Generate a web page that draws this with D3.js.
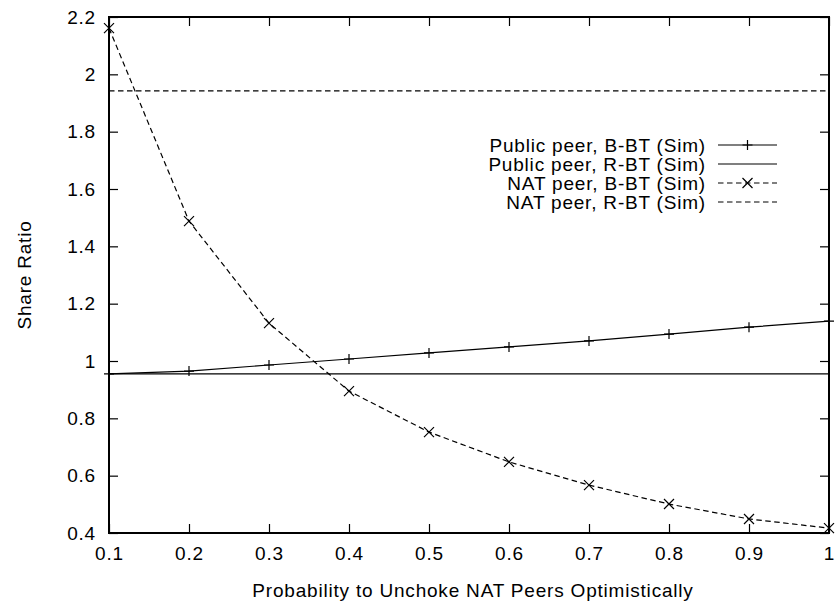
<!DOCTYPE html>
<meta charset="utf-8">
<style>
body { margin: 0; background: #fff; }
text { font-family: "Liberation Sans", Arial, sans-serif; font-size: 19px; letter-spacing: 0.8px; fill: #000; }
.axis path { display: none; }
.axis line { stroke: #000; stroke-width: 1.2px; }
.line { fill: none; stroke: #000; stroke-width: 1.2px; }
.dashed { stroke-dasharray: 5.5,3.5; }
</style>
<body>
<script src="https://cdn.jsdelivr.net/npm/d3@7"></script>
<script>

// data
var probs = [0.1, 0.2, 0.3, 0.4, 0.5, 0.6, 0.7, 0.8, 0.9, 1.0];
var publicBBT = [0.955, 0.965, 0.986, 1.007, 1.028, 1.049, 1.070, 1.094, 1.118, 1.139];
var natBBT = [2.161, 1.488, 1.132, 0.895, 0.752, 0.648, 0.567, 0.501, 0.449, 0.417];
var publicRBT = 0.955;
var natRBT = 1.942;

var xTicks = [0.1, 0.2, 0.3, 0.4, 0.5, 0.6, 0.7, 0.8, 0.9, 1];
var yTicks = [0.4, 0.6, 0.8, 1, 1.2, 1.4, 1.6, 1.8, 2, 2.2];
var legendLabels = ["Public peer, B-BT (Sim)", "Public peer, R-BT (Sim)",
                    "NAT peer, B-BT (Sim)", "NAT peer, R-BT (Sim)"];

// set the dimensions and margins of the graph
var margin = {top: 17, right: 9, bottom: 70, left: 109},
    width = 838 - margin.left - margin.right,
    height = 603 - margin.top - margin.bottom;

var x = d3.scaleLinear().domain([0.1, 1]).range([0, width]);
var y = d3.scaleLinear().domain([0.4, 2.2]).range([height, 0]);

var svg = d3.select("body").append("svg")
    .attr("width", 838)
    .attr("height", 603)
  .append("g")
    .attr("transform", "translate(" + margin.left + "," + margin.top + ")");

// axes, ticks pointing inward on all four sides
svg.append("g")
    .attr("class", "axis")
    .attr("transform", "translate(0," + height + ")")
    .call(d3.axisBottom(x).tickValues(xTicks).tickSizeInner(-9).tickSizeOuter(0)
        .tickPadding(14).tickFormat(function(d) { return String(d); }));

svg.append("g")
    .attr("class", "axis")
    .call(d3.axisTop(x).tickValues(xTicks).tickSizeInner(-9).tickSizeOuter(0).tickFormat(""));

svg.append("g")
    .attr("class", "axis")
    .call(d3.axisLeft(y).tickValues(yTicks).tickSizeInner(-9).tickSizeOuter(0)
        .tickPadding(13).tickFormat(function(d) { return String(d); }));

svg.append("g")
    .attr("class", "axis")
    .attr("transform", "translate(" + width + ",0)")
    .call(d3.axisRight(y).tickValues(yTicks).tickSizeInner(-9).tickSizeOuter(0).tickFormat(""));

svg.selectAll(".axis text").style("font-size", "19px");

// frame
svg.append("rect")
    .attr("width", width)
    .attr("height", height)
    .attr("fill", "none")
    .attr("stroke", "#000")
    .attr("stroke-width", 2);

// axis titles
svg.append("text")
    .attr("x", width / 2 + 4)
    .attr("y", height + 64)
    .attr("text-anchor", "middle")
    .text("Probability to Unchoke NAT Peers Optimistically");

svg.append("text")
    .attr("transform", "translate(" + (-78) + "," + (height / 2) + ") rotate(-90)")
    .attr("text-anchor", "middle")
    .text("Share Ratio");

var line = d3.line()
    .x(function(d) { return x(d[0]); })
    .y(function(d) { return y(d[1]); });

var pubB = probs.map(function(p, i) { return [p, publicBBT[i]]; });
var natB = probs.map(function(p, i) { return [p, natBBT[i]]; });
var pubR = [[probs[0], publicRBT], [probs[probs.length - 1], publicRBT]];
var natR = [[probs[0], natRBT], [probs[probs.length - 1], natRBT]];

function plus(g, cx, cy) {
  g.append("path").attr("class", "line")
    .attr("d", "M" + (cx - 5) + "," + cy + "h10M" + cx + "," + (cy - 5) + "v10");
}
function cross(g, cx, cy) {
  g.append("path").attr("class", "line")
    .attr("d", "M" + (cx - 5) + "," + (cy - 5) + "l10,10M" + (cx - 5) + "," + (cy + 5) + "l10,-10");
}

svg.append("path").datum(pubB).attr("class", "line").attr("d", line);
svg.append("path").datum(pubR).attr("class", "line").attr("d", line);
svg.append("path").datum(natB).attr("class", "line dashed").attr("d", line);
svg.append("path").datum(natR).attr("class", "line dashed").attr("d", line);

pubB.forEach(function(d) { plus(svg, x(d[0]), y(d[1])); });
natB.forEach(function(d) { cross(svg, x(d[0]), y(d[1])); });

// legend
var leg = svg.append("g").attr("transform", "translate(" + (706 - margin.left) + "," + (145 - margin.top) + ")");
legendLabels.forEach(function(name, i) {
  var yy = i * 19;
  leg.append("text")
    .attr("x", 0)
    .attr("y", yy)
    .attr("dy", "0.35em")
    .attr("text-anchor", "end")
    .text(name);
  leg.append("path")
    .attr("class", i >= 2 ? "line dashed" : "line")
    .attr("d", "M12," + yy + "h59");
  if (i === 0) plus(leg, 41.5, yy);
  if (i === 2) cross(leg, 41.5, yy);
});

</script>
</body>
